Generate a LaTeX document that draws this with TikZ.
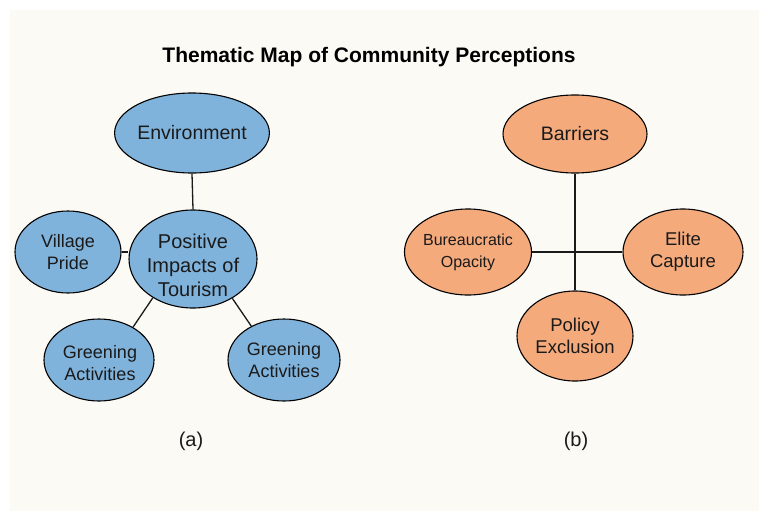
\documentclass[tikz,border=0pt]{standalone}
\usepackage{fontspec}
\setmainfont{Liberation Sans}
\usetikzlibrary{shapes.geometric}
\definecolor{cream}{HTML}{FCFAF5}
\definecolor{bluefill}{HTML}{80B3DC}
\definecolor{orangefill}{HTML}{F5AA7C}
\definecolor{ink}{HTML}{1A1A1A}
\tikzset{
  bubble/.style={ellipse, draw=black, line width=1.1pt, inner sep=0pt, align=center, text=ink, font=\fontsize{19}{22}\selectfont},
  bluebub/.style={bubble, fill=bluefill},
  orangebub/.style={bubble, fill=orangefill},
  link/.style={draw=ink, line width=1.3pt},
}
\begin{document}
\begin{tikzpicture}[x=1pt,y=-1pt]
\fill[white] (0,0) rectangle (759,511);
\fill[cream] (10,10) rectangle (759,511);
\useasboundingbox (0,0) rectangle (759,511);

\node[font=\bfseries\fontsize{21}{24}\selectfont, text=black] (title) at (369,57) {Thematic Map of Community Perceptions};

% (a)
\node[bluebub, minimum width=150pt, minimum height=80pt, font=\fontsize{19.5}{22}\selectfont] (env) at (192,133) {Environment};
\node[bluebub, minimum width=128pt, minimum height=98pt] (pos) at (193,259) {};
\node[align=center, text=ink, inner sep=0pt, font=\fontsize{20}{24}\selectfont] (posT) at (193,265) {Positive\\Impacts of\\Tourism};
\node[bluebub, minimum width=106pt, minimum height=82pt, font=\fontsize{18}{21.5}\selectfont] (vp) at (68,252) {Village\\Pride};
\node[bluebub, minimum width=110pt, minimum height=82pt, font=\fontsize{18}{21.5}\selectfont] (gl) at (99,360) {};
\node[align=center, text=ink, inner sep=0pt, font=\fontsize{18}{21.5}\selectfont] (glT) at (100,363) {Greening\\Activities};
\node[bluebub, minimum width=112pt, minimum height=82pt, font=\fontsize{18}{21.5}\selectfont] (gr) at (284,360) {Greening\\Activities};

\draw[link] (env.south) -- (pos.north);
\draw[link] (vp.east) -- (pos.west |- vp.east);
\draw[link] (pos.224) -- (gl.44);
\draw[link] (pos.-45) -- (gr.134);

% (b)
\node[orangebub, minimum width=144pt, minimum height=78pt, font=\fontsize{19.5}{22}\selectfont] (bar) at (575,134) {Barriers};
\node[orangebub, minimum width=118pt, minimum height=86pt, font=\fontsize{16}{22}\selectfont] (bo) at (468,252) {Bureaucratic\\Opacity};
\node[orangebub, minimum width=120pt, minimum height=86pt, font=\fontsize{18.5}{22}\selectfont] (ec) at (683,252) {Elite\\Capture};
\node[orangebub, minimum width=116pt, minimum height=90pt, font=\fontsize{18.5}{22}\selectfont] (pe) at (575,336) {Policy\\Exclusion};

\draw[link] (bar.south) -- (pe.north);
\draw[link] (bo.east) -- (ec.west);

\node[font=\fontsize{20}{24}\selectfont, text=ink] (la) at (191,441) {(a)};
\node[font=\fontsize{20}{24}\selectfont, text=ink] (lb) at (576,441) {(b)};
\end{tikzpicture}
\end{document}
